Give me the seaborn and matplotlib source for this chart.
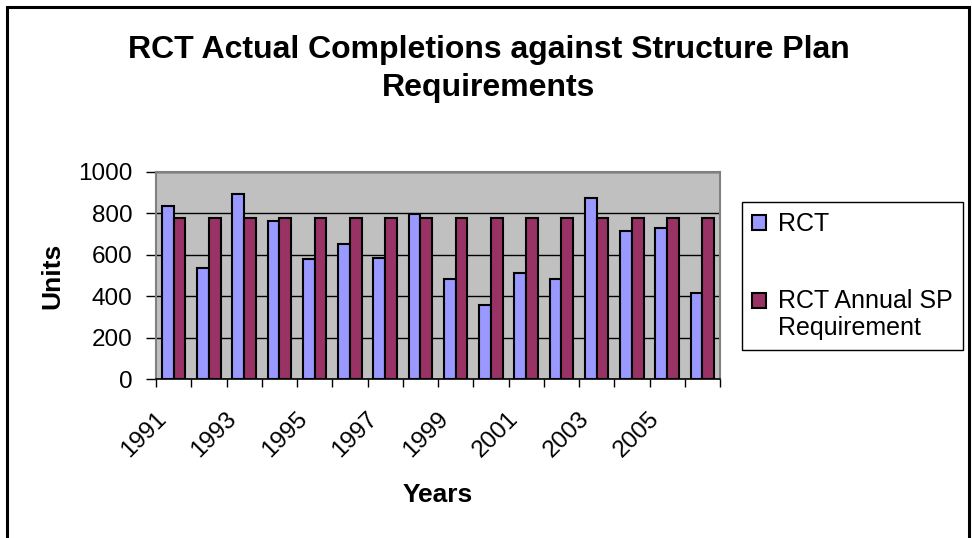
import matplotlib
matplotlib.use("Agg")
import matplotlib.pyplot as plt
import matplotlib.patches as mpatches
from matplotlib.transforms import ScaledTranslation
import numpy as np
import pandas as pd
import seaborn as sns

# ---- data ----
years = ["1991", "1992", "1993", "1994", "1995", "1996", "1997", "1998",
         "1999", "2000", "2001", "2002", "2003", "2004", "2005", "2006"]
rct = [836, 538, 896, 761, 578, 653, 586, 799, 482, 356, 510, 482, 875, 713, 730, 414]
sp_req = [778, 778, 778, 778, 778, 778, 778, 778, 778, 778, 778, 778, 778, 778, 778, 778]
series_names = ["RCT", "RCT Annual SP\nRequirement"]
colors = ["#9999FF", "#993366"]
y_ticks = [0, 200, 400, 600, 800, 1000]
x_label_years = years[::2]

df = pd.DataFrame({
    "Year": years + years,
    "Units": rct + sp_req,
    "Series": [series_names[0]] * len(years) + [series_names[1]] * len(years),
})

sns.set_theme(style="white")
plt.rcParams['font.family'] = ['Liberation Sans', 'DejaVu Sans']
plt.rcParams.update({"text.color": "black", "axes.labelcolor": "black",
                     "xtick.color": "black", "ytick.color": "black"})

W, H = 972, 538
fig = plt.figure(figsize=(W / 100, H / 100), dpi=100)
fig.patch.set_facecolor("white")
ax = fig.add_axes([156 / W, 1 - 379 / H, 564 / W, 207 / H])

sns.barplot(data=df, x="Year", y="Units", hue="Series", palette=colors,
            width=0.66, edgecolor="black", linewidth=1.5, saturation=1,
            ax=ax)

ax.set_facecolor("#C0C0C0")
ax.set_xlim(-0.5, len(years) - 0.5)
ax.set_ylim(0, 1000)
ax.set_yticks(y_ticks)
ax.set_yticklabels([str(t) for t in y_ticks], fontsize=17.5)
ax.yaxis.grid(True, color="black", linewidth=1)
ax.set_axisbelow(True)
ax.tick_params(axis="y", direction="out", length=7, width=1, color="black", pad=10, left=True)

# x ticks: marks at category boundaries, labels at every other category
ax.set_xticks(np.arange(-0.5, len(years), 1.0))
ax.set_xticklabels([])
ax.set_xticks(np.arange(0, len(years), 2), minor=True)
ax.set_xticklabels(x_label_years, minor=True, rotation=45, ha="right",
                   va="center", rotation_mode="anchor", fontsize=17.5)
ax.tick_params(axis="x", which="major", direction="out", length=6, width=1, color="black", bottom=True)
ax.tick_params(axis="x", which="minor", length=0, pad=26)
off = ScaledTranslation(-11 / 100, 0, fig.dpi_scale_trans)
for lab in ax.get_xticklabels(minor=True):
    lab.set_transform(lab.get_transform() + off)

for side in ["left", "top", "right"]:
    ax.spines[side].set_color("#808080")
    ax.spines[side].set_linewidth(1.5)
ax.spines["bottom"].set_color("black")
ax.spines["bottom"].set_linewidth(1.2)

ax.set_xlabel("Years", fontsize=19, fontweight="bold")
ax.set_ylabel("Units", fontsize=19, fontweight="bold")
ax.xaxis.set_label_coords(0.5, -(483 - 379) / 207)
ax.yaxis.set_label_coords((52 - 156) / 564, 0.5)
ax.yaxis.label.set_va("center")

fig.text(489 / W, 1 - 35 / H,
         "RCT Actual Completions against Structure Plan\nRequirements",
         ha="center", va="top", fontsize=23, fontweight="bold",
         linespacing=1.35, color="black")

handles, labels = ax.get_legend_handles_labels()
leg_fs = 18
leg = ax.legend(handles, labels, loc="upper left",
                bbox_to_anchor=(742 / W, 1 - 202 / H), bbox_transform=fig.transFigure,
                fontsize=leg_fs, frameon=True, fancybox=False, framealpha=1,
                edgecolor="black", labelspacing=2.1, handlelength=0.55,
                handleheight=0.55, handletextpad=0.5, borderpad=0.4,
                borderaxespad=0)
leg.get_frame().set_linewidth(1)
# align the second handle with the first line of its two-line label
h2 = leg.legend_handles[1]
h2.set_y(h2.get_y() + 0.6 * leg_fs)

fig.add_artist(mpatches.Rectangle((7 / W, -0.1), (969 - 7) / W, 1.1 - 7 / H,
                                  transform=fig.transFigure, fill=False,
                                  edgecolor="black", linewidth=2.2))

fig.savefig("out.png", dpi=100)
